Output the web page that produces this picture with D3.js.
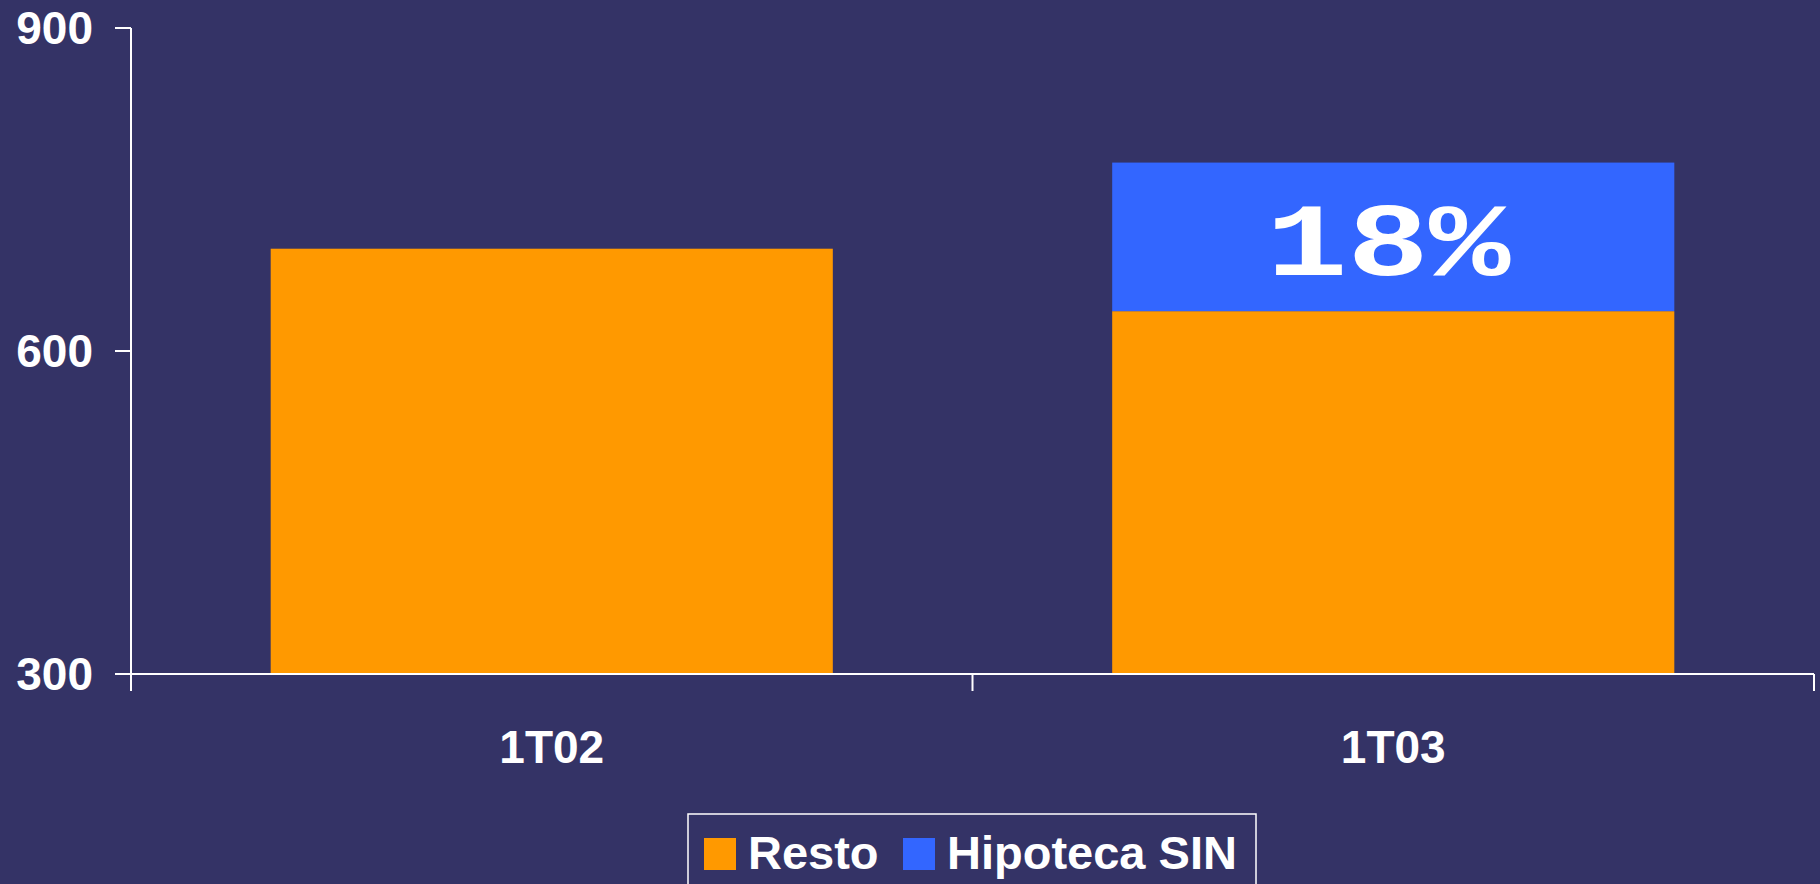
<!DOCTYPE html>
<html>
<head>
<meta charset="utf-8">
<script src="https://cdn.jsdelivr.net/npm/d3@7"></script>
<style>
  html, body { margin: 0; padding: 0; background: #343366; overflow: hidden; }
  svg { display: block; }
</style>
</head>
<body>
<svg id="chart" width="1820" height="884"></svg>
<script>
const categories = ["1T02", "1T03"];
const resto = [695, 637];
const hipotecaSIN = [0, 138];
const yTicks = [300, 600, 900];
const seriesNames = ["Resto", "Hipoteca SIN"];
const seriesColors = ["#FF9900", "#3366FF"];
const annotation = { category: "1T03", text: "18%" };

const svg = d3.select("#chart");
const W = 1820, H = 884;
svg.append("rect").attr("width", W).attr("height", H).attr("fill", "#343366");

const mLeft = 131, mRight = 1814, mTop = 28, mBottom = 674;

const y = d3.scaleLinear().domain([300, 900]).range([mBottom, mTop]);
const xOuter = d3.scaleBand().domain(categories).range([mLeft, mRight]).padding(0);
const x = d3.scaleBand().domain(categories).range([mLeft, mRight])
  .paddingInner(0.332).paddingOuter(0.166);

const data = categories.map((c, i) => ({ cat: c, Resto: resto[i], "Hipoteca SIN": hipotecaSIN[i] }));
const stacked = d3.stack().keys(seriesNames)(data);

const gBars = svg.append("g");
stacked.forEach((s, si) => {
  gBars.selectAll(null).data(s.filter(d => d[1] - d[0] > 0)).enter().append("rect")
    .attr("x", d => x(d.data.cat))
    .attr("width", x.bandwidth())
    .attr("y", d => y(d[1]))
    .attr("height", d => y(Math.max(d[0], 300)) - y(d[1]))
    .attr("fill", seriesColors[si]);
});

// annotation in blue segment
{
  const i = categories.indexOf(annotation.category);
  const segTop = y(resto[i] + hipotecaSIN[i]);
  svg.append("text")
    .attr("x", x(annotation.category) + x.bandwidth() / 2 - 127)
    .attr("y", segTop + 112)
    .attr("textLength", 244)
    .attr("lengthAdjust", "spacingAndGlyphs")
    .attr("font-family", "'Liberation Mono', 'Courier New', monospace")
    .attr("font-weight", "bold")
    .attr("font-size", 104)
    .attr("fill", "#FFFFFF")
    .text(annotation.text);
}

// axes
const axisColor = "#FFFFFF";
const gAxis = svg.append("g").attr("stroke", axisColor).attr("stroke-width", 2);
gAxis.append("line").attr("x1", mLeft).attr("x2", mLeft).attr("y1", mTop).attr("y2", mBottom + 17);
gAxis.selectAll(null).data(yTicks).enter().append("line")
  .attr("x1", mLeft - 16).attr("x2", mLeft)
  .attr("y1", d => y(d)).attr("y2", d => y(d));
gAxis.append("line").attr("x1", mLeft - 16).attr("x2", mRight).attr("y1", mBottom).attr("y2", mBottom);
const xTickPos = categories.map(c => xOuter(c)).concat([xOuter(categories[categories.length - 1]) + xOuter.bandwidth()]);
gAxis.selectAll(null).data(xTickPos).enter().append("line")
  .attr("x1", d => d).attr("x2", d => d)
  .attr("y1", mBottom).attr("y2", mBottom + 17);

// y tick labels
svg.selectAll(null).data(yTicks).enter().append("text")
  .attr("x", 93).attr("y", d => y(d) + 16)
  .attr("text-anchor", "end")
  .attr("font-family", "'Liberation Sans', Arial, sans-serif")
  .attr("font-weight", "bold").attr("font-size", 46)
  .attr("fill", "#FFFFFF")
  .text(d => d);

// category labels
svg.selectAll(null).data(categories).enter().append("text")
  .attr("x", d => xOuter(d) + xOuter.bandwidth() / 2)
  .attr("y", 763)
  .attr("text-anchor", "middle")
  .attr("font-family", "'Liberation Sans', Arial, sans-serif")
  .attr("font-weight", "bold").attr("font-size", 46)
  .attr("fill", "#FFFFFF")
  .text(d => d);

// legend
const leg = svg.append("g");
leg.append("rect").attr("x", 688).attr("y", 814).attr("width", 568).attr("height", 120)
  .attr("fill", "none").attr("stroke", "#FFFFFF").attr("stroke-width", 1.5);
const legItems = [
  { name: seriesNames[0], color: seriesColors[0], sx: 704, tx: 748 },
  { name: seriesNames[1], color: seriesColors[1], sx: 903, tx: 947 }
];
legItems.forEach(it => {
  leg.append("rect").attr("x", it.sx).attr("y", 838).attr("width", 32).attr("height", 32).attr("fill", it.color);
  leg.append("text").attr("x", it.tx).attr("y", 869)
    .attr("font-family", "'Liberation Sans', Arial, sans-serif")
    .attr("font-weight", "bold").attr("font-size", 47)
    .attr("fill", "#FFFFFF")
    .text(it.name);
});
</script>
</body>
</html>
